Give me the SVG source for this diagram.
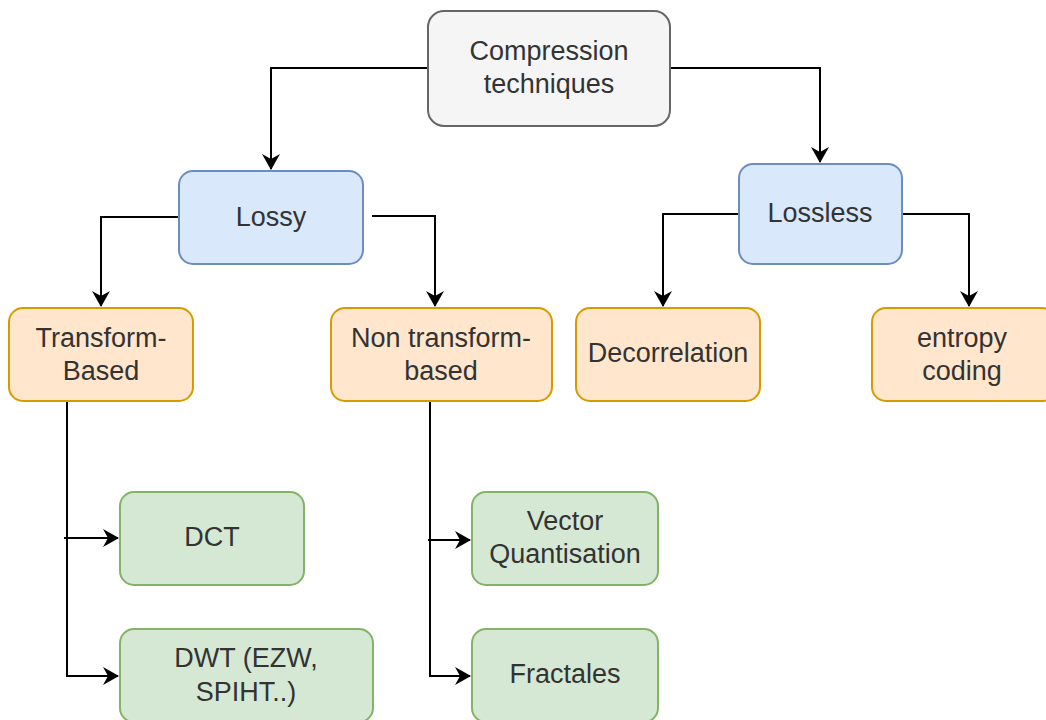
<svg xmlns="http://www.w3.org/2000/svg" width="1046" height="720" viewBox="0 0 1046 720">
  <style>
    .box { stroke-width: 2; }
    .root { fill: #f5f5f5; stroke: #666666; }
    .blue { fill: #dae8fc; stroke: #6c8ebf; }
    .orange { fill: #ffe6cc; stroke: #d79b00; }
    .green { fill: #d5e8d4; stroke: #82b366; }
    text { font-family: "Liberation Sans", Arial, sans-serif; font-size: 27px; fill: #333333; text-anchor: middle; dominant-baseline: central; }
    .edge { fill: none; stroke: #000000; stroke-width: 2; }
  </style>
  <defs>
    <marker id="arrow" viewBox="0 0 16 18" refX="15" refY="9" markerWidth="16" markerHeight="18" markerUnits="userSpaceOnUse" orient="auto">
      <path d="M0,0 L16,9 L0,18 L5,9 Z" fill="#000000"/>
    </marker>
  </defs>

  <g id="connectors">
    <path class="edge" d="M427,68 H271 V169" marker-end="url(#arrow)"/>
    <path class="edge" d="M670,68 H820 V162" marker-end="url(#arrow)"/>
    <path class="edge" d="M179,217 H101 V306" marker-end="url(#arrow)"/>
    <path class="edge" d="M372,216 H435 V306" marker-end="url(#arrow)"/>
    <path class="edge" d="M739,214 H663 V306" marker-end="url(#arrow)"/>
    <path class="edge" d="M902,214 H969 V306" marker-end="url(#arrow)"/>
    <path class="edge" d="M67,401 V676 H118" marker-end="url(#arrow)"/>
    <path class="edge" d="M64,538 H118" marker-end="url(#arrow)"/>
    <path class="edge" d="M430,401 V676 H470" marker-end="url(#arrow)"/>
    <path class="edge" d="M428,540 H470" marker-end="url(#arrow)"/>
  </g>

  <g id="node-root">
    <rect class="box root" x="428" y="11" width="242" height="115" rx="16"/>
    <text x="549" y="51">Compression</text>
    <text x="549" y="84">techniques</text>
  </g>
  <g id="node-lossy">
    <rect class="box blue" x="179" y="171" width="184" height="93" rx="14"/>
    <text x="271" y="217">Lossy</text>
  </g>
  <g id="node-lossless">
    <rect class="box blue" x="739" y="164" width="163" height="100" rx="14"/>
    <text x="820" y="213">Lossless</text>
  </g>
  <g id="node-transform">
    <rect class="box orange" x="9" y="308" width="184" height="93" rx="14"/>
    <text x="101" y="338">Transform-</text>
    <text x="101" y="371">Based</text>
  </g>
  <g id="node-nontransform">
    <rect class="box orange" x="331" y="308" width="221" height="93" rx="14"/>
    <text x="441" y="338">Non transform-</text>
    <text x="441" y="371">based</text>
  </g>
  <g id="node-decorrelation">
    <rect class="box orange" x="576" y="308" width="184" height="93" rx="14"/>
    <text x="668" y="353">Decorrelation</text>
  </g>
  <g id="node-entropy">
    <rect class="box orange" x="872" y="308" width="184" height="93" rx="14"/>
    <text x="962" y="338">entropy</text>
    <text x="962" y="371">coding</text>
  </g>
  <g id="node-dct">
    <rect class="box green" x="120" y="492" width="184" height="93" rx="14"/>
    <text x="212" y="537">DCT</text>
  </g>
  <g id="node-dwt">
    <rect class="box green" x="120" y="629" width="253" height="93" rx="14"/>
    <text x="246" y="658">DWT (EZW,</text>
    <text x="246" y="692">SPIHT..)</text>
  </g>
  <g id="node-vq">
    <rect class="box green" x="472" y="492" width="186" height="93" rx="14"/>
    <text x="565" y="521">Vector</text>
    <text x="565" y="554">Quantisation</text>
  </g>
  <g id="node-fractales">
    <rect class="box green" x="472" y="629" width="186" height="93" rx="14"/>
    <text x="565" y="674">Fractales</text>
  </g>
</svg>
